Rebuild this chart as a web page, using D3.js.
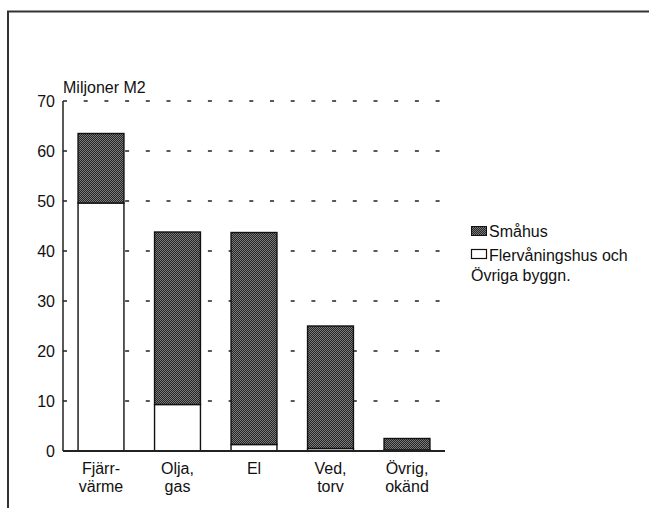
<!DOCTYPE html>
<html><head><meta charset="utf-8">
<script src="https://cdn.jsdelivr.net/npm/d3@7"></script>
<style>
body{margin:0;background:#fff;}
text{font-family:"Liberation Sans",Arial,Helvetica,sans-serif;fill:#111;}
</style></head>
<body>
<svg id="c" width="649" height="508"></svg>
<script>
const categories = [["Fjärr-","värme"],["Olja,","gas"],["El"],["Ved,","torv"],["Övrig,","okänd"]];
const flervaning = [49.6, 9.3, 1.3, 0.5, 0.2];
const smahus    = [13.9, 34.5, 42.4, 24.5, 2.3];
const yTicks = [0,10,20,30,40,50,60,70];
const seriesNames = ["Småhus", ["Flervåningshus och","Övriga byggn."]];

const svg = d3.select("#c");
const defs = svg.append("defs");
const pat = defs.append("pattern").attr("id","dots").attr("width",2).attr("height",2).attr("patternUnits","userSpaceOnUse");
pat.append("rect").attr("width",2).attr("height",2).attr("fill","#262626");
pat.append("rect").attr("x",0).attr("y",0).attr("width",1).attr("height",1).attr("fill","#7a7a7a");
pat.append("rect").attr("x",1).attr("y",1).attr("width",1).attr("height",1).attr("fill","#7a7a7a");

// frame
svg.append("path").attr("d","M8,508 V11.5 H649").attr("fill","none").attr("stroke","#333").attr("stroke-width",2);

const x0 = 63, x1 = 445;
const y = d3.scaleLinear().domain([0,70]).range([451,101]);
const x = d3.scaleBand().domain(d3.range(categories.length)).range([62.75,445.25]).paddingInner(0.4).paddingOuter(0.2);

// grid dashes
svg.append("g").selectAll("line").data(yTicks.filter(d=>d>0)).join("line")
  .attr("x1",x0).attr("x2",x1).attr("y1",d=>y(d)).attr("y2",d=>y(d))
  .attr("stroke","#222").attr("stroke-width",1.6).attr("stroke-dasharray","4,16.7");

// y axis
const ax = d3.axisLeft(y).tickValues(yTicks).tickSize(0).tickPadding(8);
const g = svg.append("g").attr("transform",`translate(${x0},0)`).call(ax);
g.select(".domain").remove();
g.selectAll("text").style("font-size","16px").attr("fill","#111");
svg.append("line").attr("x1",x0).attr("x2",x0).attr("y1",y(70)).attr("y2",y(0)).attr("stroke","#222").attr("stroke-width",1.5);

// bars
const bars = svg.append("g");
bars.selectAll("rect.w").data(flervaning).join("rect").attr("class","w")
  .attr("x",(d,i)=>x(i)).attr("width",x.bandwidth())
  .attr("y",d=>y(d)).attr("height",d=>y(0)-y(d))
  .attr("fill","#fff").attr("stroke","#111").attr("stroke-width",1.4);
bars.selectAll("rect.s").data(smahus).join("rect").attr("class","s")
  .attr("x",(d,i)=>x(i)).attr("width",x.bandwidth())
  .attr("y",(d,i)=>y(d+flervaning[i])).attr("height",(d,i)=>y(flervaning[i])-y(d+flervaning[i]))
  .attr("fill","url(#dots)").attr("stroke","#111").attr("stroke-width",1.4);

// baseline
svg.append("line").attr("x1",x0).attr("x2",x1).attr("y1",y(0)).attr("y2",y(0)).attr("stroke","#222").attr("stroke-width",2);

// y title
svg.append("text").attr("x",63).attr("y",93).style("font-size","16px").text("Miljoner M2");

// x labels
const xl = svg.append("g").selectAll("text").data(categories).join("text")
  .attr("text-anchor","middle").attr("x",(d,i)=>x(i)+x.bandwidth()/2).attr("y",474).style("font-size","16px");
xl.selectAll("tspan").data(d=>d).join("tspan").attr("x",function(){return this.parentNode.getAttribute("x");})
  .attr("dy",(d,i)=>i===0?0:18).text(d=>d);

// legend
const lg = svg.append("g");
lg.append("rect").attr("x",471.5).attr("y",226.5).attr("width",15).attr("height",9).attr("fill","url(#dots)").attr("stroke","#111").attr("stroke-width",1);
lg.append("text").attr("x",489).attr("y",237).style("font-size","16px").text(seriesNames[0]);
lg.append("rect").attr("x",471.5).attr("y",249.5).attr("width",15).attr("height",9).attr("fill","#fff").attr("stroke","#111").attr("stroke-width",1.2);
lg.append("text").attr("x",489).attr("y",261).style("font-size","16px").text(seriesNames[1][0]);
lg.append("text").attr("x",471).attr("y",281).style("font-size","16px").text(seriesNames[1][1]);
</script>
</body></html>
